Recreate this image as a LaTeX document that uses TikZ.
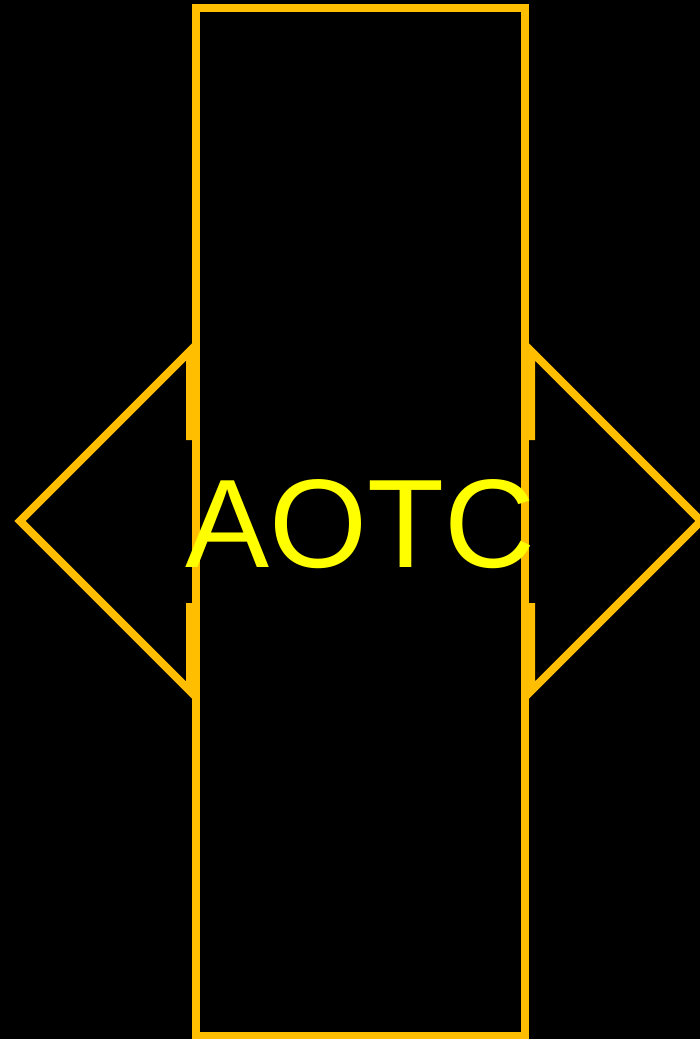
\documentclass[tikz,border=0pt]{standalone}
\usepackage{fontspec}
\setmainfont{Liberation Sans}
\definecolor{amber}{HTML}{FFBF00}
\definecolor{txtyellow}{HTML}{FFFF00}
\begin{document}
\begin{tikzpicture}[x=1pt,y=-1pt,
  edge/.style={draw=amber,line width=8pt,line cap=butt,line join=miter}]
\fill[black] (0,0) rectangle (700,1039);
\useasboundingbox (0,0) rectangle (700,1039);
% tall rectangle
\draw[edge] (196,7.5) rectangle (525,1035.5);
% left arrow
\draw[edge] (190,440) -- (190,351) -- (20,521) -- (190,691) -- (190,603);
% right arrow
\draw[edge] (531,440) -- (531,351) -- (701,521) -- (531,691) -- (531,603);
\node[anchor=base,inner sep=0pt,text=txtyellow,font=\fontsize{126}{126}\selectfont] (label) at (360.5,567) {AOTC};
\end{tikzpicture}
\end{document}
